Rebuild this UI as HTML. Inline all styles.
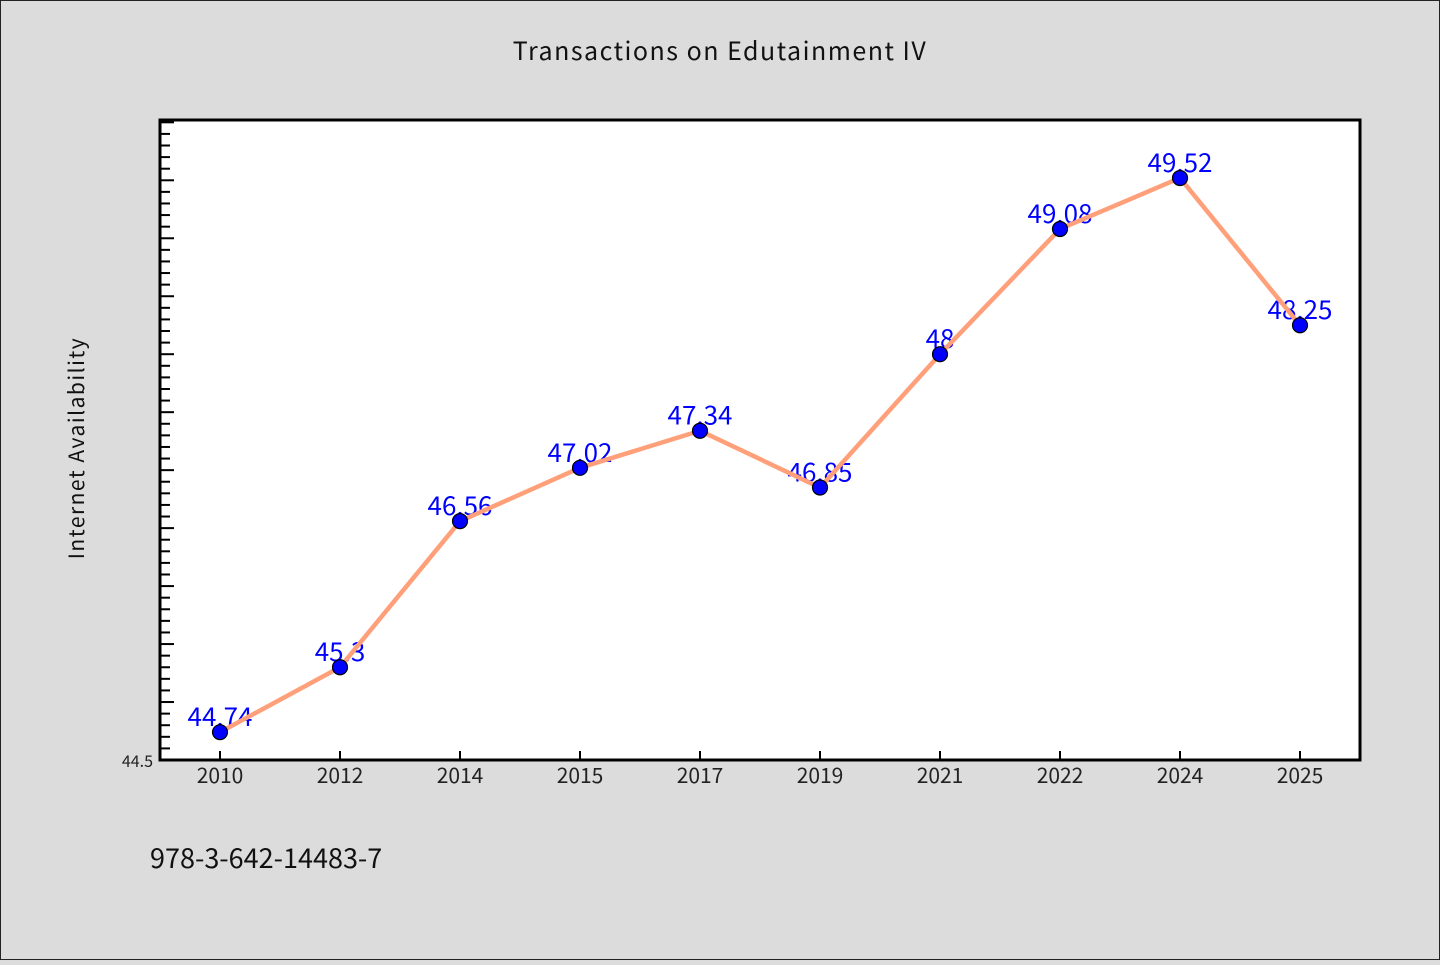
<!DOCTYPE html>
<html><head><meta charset="utf-8"><style>
html,body{margin:0;padding:0;background:#dcdcdc}
svg text{font-family:"WenQuanYi Zen Hei","Noto Sans CJK SC","Liberation Sans",sans-serif}
</style></head><body>
<svg width="1440" height="960" viewBox="0 0 1440 960" xmlns="http://www.w3.org/2000/svg">
<rect x="0.5" y="0.5" width="1439" height="959" fill="#dcdcdc" stroke="#222" stroke-width="1"/>
<text x="720" y="60" text-anchor="middle" font-size="25" letter-spacing="1.5" fill="#111">Transactions on Edutainment IV</text>
<rect x="160" y="120" width="1200" height="640" fill="#fff" stroke="#000" stroke-width="3"/>
<text transform="translate(84,448) rotate(-90)" text-anchor="middle" font-size="21" letter-spacing="1.5" fill="#111">Internet Availability</text>
<text x="150" y="868" font-size="27" fill="#111">978-3-642-14483-7</text>
<g id="yticks"></g>
<g id="xticks"></g>
<g id="labels"></g>
<g id="series"></g>
</svg>
<script>
const categories=["2010","2012","2014","2015","2017","2019","2021","2022","2024","2025"];
const values=[44.74,45.3,46.56,47.02,47.34,46.85,48,49.08,49.52,48.25];
const valueLabels=["44.74","45.3","46.56","47.02","47.34","46.85","48","49.08","49.52","48.25"];
const yMin=44.5, yMax=50.02;
const L=160,R=1360,T=120,B=760;
const NS="http://www.w3.org/2000/svg";
function xs(i){return L+(i+0.5)*(R-L)/categories.length;}
function ys(v){return B-(v-yMin)/(yMax-yMin)*(B-T);}
function mk(t,a,p){const e=document.createElementNS(NS,t);for(const k in a)e.setAttribute(k,a[k]);p.appendChild(e);return e;}
const yt=document.getElementById('yticks');
for(let k=0;;k++){const v=yMin+k*0.1;if(v>yMax)break;const y=ys(v);const major=k%5===0;
const t=mk('line',{x1:161,x2:161+(major?13:9),y1:y,y2:y,stroke:'#000','stroke-width':2},yt);
}
const yl=mk('text',{x:153,y:767,'text-anchor':'end','font-size':16,fill:'#222'},yt);yl.textContent="44.5";

const xt=document.getElementById('xticks');
categories.forEach((c,i)=>{const x=xs(i);
const t=mk('line',{x1:x,x2:x,y1:B-1,y2:B-9,stroke:'#000','stroke-width':2},xt);

const l=mk('text',{x:x,y:783,'text-anchor':'middle','font-size':21,fill:'#222'},xt);l.textContent=c;
});
const lg=document.getElementById('labels');
values.forEach((v,i)=>{const l=mk('text',{x:xs(i),y:ys(v)-6,'text-anchor':'middle','font-size':26,fill:'#0000ff'},lg);l.textContent=valueLabels[i];
});
const sg=document.getElementById('series');
const pl=mk('polyline',{points:values.map((v,i)=>xs(i)+','+ys(v)).join(' '),fill:'none',stroke:'#ffa07a','stroke-width':4.5,'stroke-linejoin':'round'},sg);

values.forEach((v,i)=>{const c=mk('circle',{cx:xs(i),cy:ys(v),r:7.5,fill:'#0000ff',stroke:'#000','stroke-width':1.2},sg);
});
</script>
</body></html>
